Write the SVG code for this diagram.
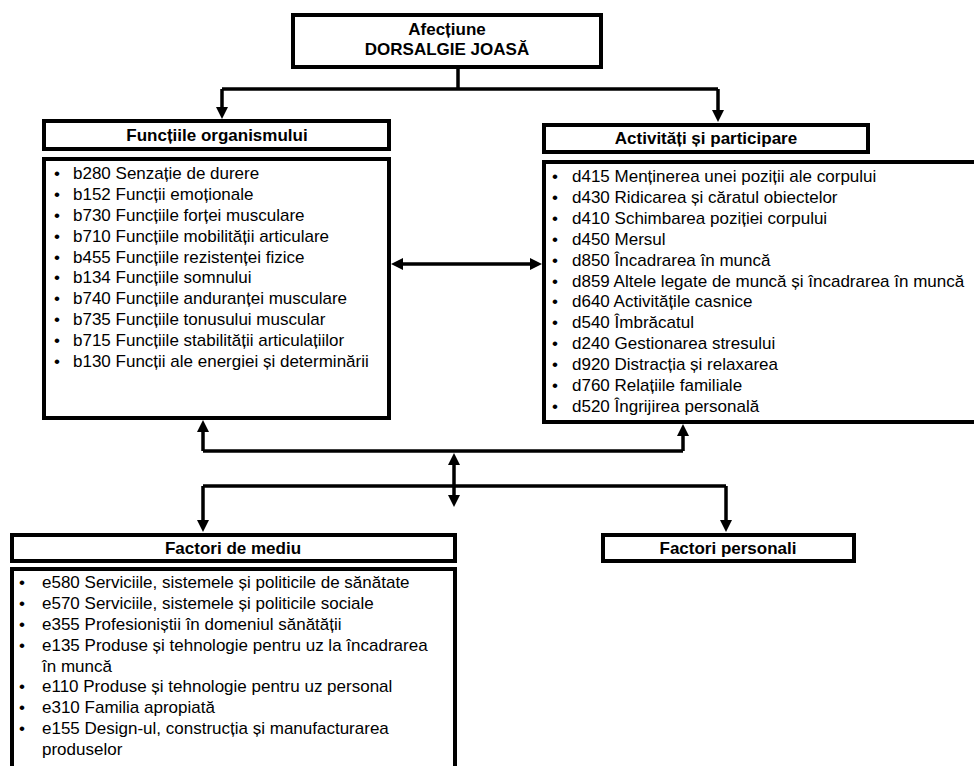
<svg xmlns="http://www.w3.org/2000/svg" width="974" height="766" viewBox="0 0 974 766">
<style>
.box{fill:#fff;stroke:#000;stroke-width:4}
.ln{fill:none;stroke:#000;stroke-width:3.5}
.t{font-family:"Liberation Sans",Arial,sans-serif;font-size:17px;fill:#000}
.h{font-family:"Liberation Sans",Arial,sans-serif;font-size:17px;font-weight:bold;fill:#000;text-anchor:middle}
</style>
<defs>
<marker id="ah" viewBox="0 0 12 12" markerWidth="12" markerHeight="12" refX="0" refY="6" orient="auto-start-reverse" markerUnits="userSpaceOnUse">
<path d="M0,0 L12,6 L0,12 z" fill="#000"/>
</marker>
</defs>
<rect width="974" height="766" fill="#fff"/>
<g id="connectors">
<path class="ln" d="M458,69 V89"/>
<path class="ln" d="M222,89 H718"/>
<path class="ln" d="M222,89 V107" marker-end="url(#ah)"/>
<path class="ln" d="M718,89 V110" marker-end="url(#ah)"/>
<path class="ln" d="M403,264 H530" marker-start="url(#ah)" marker-end="url(#ah)"/>
<path class="ln" d="M203,451 H683"/>
<path class="ln" d="M203,451 V432" marker-end="url(#ah)"/>
<path class="ln" d="M683,451 V436" marker-end="url(#ah)"/>
<path class="ln" d="M454,465 V495" marker-start="url(#ah)" marker-end="url(#ah)"/>
<path class="ln" d="M203,486 H726"/>
<path class="ln" d="M203,486 V520" marker-end="url(#ah)"/>
<path class="ln" d="M726,486 V520" marker-end="url(#ah)"/>
</g>
<g id="afectiune">
<rect class="box" x="293" y="15" width="308" height="52"/>
<text class="h" x="447" y="35">Afecțiune</text>
<text class="h" x="447" y="55">DORSALGIE JOASĂ</text>
</g>
<g id="functii-header">
<rect class="box" x="44" y="121" width="345" height="28"/>
<text class="h" x="217" y="141">Funcțiile organismului</text>
</g>
<g id="functii-list">
<rect class="box" x="44" y="159" width="345" height="259"/>
<text class="t" y="179"><tspan x="54">•</tspan><tspan x="73">b280 Senzație de durere</tspan></text>
<text class="t" y="200"><tspan x="54">•</tspan><tspan x="73">b152 Funcții emoționale</tspan></text>
<text class="t" y="221"><tspan x="54">•</tspan><tspan x="73">b730 Funcțiile forței musculare</tspan></text>
<text class="t" y="242"><tspan x="54">•</tspan><tspan x="73">b710 Funcțiile mobilității articulare</tspan></text>
<text class="t" y="263"><tspan x="54">•</tspan><tspan x="73">b455 Funcțiile rezistenței fizice</tspan></text>
<text class="t" y="283"><tspan x="54">•</tspan><tspan x="73">b134 Funcțiile somnului</tspan></text>
<text class="t" y="304"><tspan x="54">•</tspan><tspan x="73">b740 Funcțiile anduranței musculare</tspan></text>
<text class="t" y="325"><tspan x="54">•</tspan><tspan x="73">b735 Funcțiile tonusului muscular</tspan></text>
<text class="t" y="346"><tspan x="54">•</tspan><tspan x="73">b715 Funcțiile stabilității articulațiilor</tspan></text>
<text class="t" y="367"><tspan x="54">•</tspan><tspan x="73">b130 Funcții ale energiei și determinării</tspan></text>
</g>
<g id="activitati-header">
<rect class="box" x="544" y="125" width="324" height="27"/>
<text class="h" x="706" y="144">Activități și participare</text>
</g>
<g id="activitati-list">
<rect class="box" x="544" y="162" width="440" height="260"/>
<text class="t" y="182"><tspan x="552">•</tspan><tspan x="572">d415 Menținerea unei poziții ale corpului</tspan></text>
<text class="t" y="203"><tspan x="552">•</tspan><tspan x="572">d430 Ridicarea și căratul obiectelor</tspan></text>
<text class="t" y="224"><tspan x="552">•</tspan><tspan x="572">d410 Schimbarea poziției corpului</tspan></text>
<text class="t" y="245"><tspan x="552">•</tspan><tspan x="572">d450 Mersul</tspan></text>
<text class="t" y="266"><tspan x="552">•</tspan><tspan x="572">d850 Încadrarea în muncă</tspan></text>
<text class="t" y="287"><tspan x="552">•</tspan><tspan x="572">d859 Altele legate de muncă și încadrarea în muncă</tspan></text>
<text class="t" y="307"><tspan x="552">•</tspan><tspan x="572">d640 Activitățile casnice</tspan></text>
<text class="t" y="328"><tspan x="552">•</tspan><tspan x="572">d540 Îmbrăcatul</tspan></text>
<text class="t" y="349"><tspan x="552">•</tspan><tspan x="572">d240 Gestionarea stresului</tspan></text>
<text class="t" y="370"><tspan x="552">•</tspan><tspan x="572">d920 Distracția și relaxarea</tspan></text>
<text class="t" y="391"><tspan x="552">•</tspan><tspan x="572">d760 Relațiile familiale</tspan></text>
<text class="t" y="412"><tspan x="552">•</tspan><tspan x="572">d520 Îngrijirea personală</tspan></text>
</g>
<g id="mediu-header">
<rect class="box" x="12" y="535" width="443" height="26"/>
<text class="h" x="233" y="554">Factori de mediu</text>
</g>
<g id="mediu-list">
<rect class="box" x="12" y="569" width="443" height="210"/>
<text class="t" y="588"><tspan x="19">•</tspan><tspan x="42">e580 Serviciile, sistemele și politicile de sănătate</tspan></text>
<text class="t" y="609"><tspan x="19">•</tspan><tspan x="42">e570 Serviciile, sistemele și politicile sociale</tspan></text>
<text class="t" y="630"><tspan x="19">•</tspan><tspan x="42">e355 Profesioniștii în domeniul sănătății</tspan></text>
<text class="t" y="651"><tspan x="19">•</tspan><tspan x="42">e135 Produse și tehnologie pentru uz la încadrarea</tspan></text>
<text class="t" x="42" y="672">în muncă</text>
<text class="t" y="692"><tspan x="19">•</tspan><tspan x="42">e110 Produse și tehnologie pentru uz personal</tspan></text>
<text class="t" y="713"><tspan x="19">•</tspan><tspan x="42">e310 Familia apropiată</tspan></text>
<text class="t" y="734"><tspan x="19">•</tspan><tspan x="42">e155 Design-ul, construcția și manufacturarea</tspan></text>
<text class="t" x="42" y="755">produselor</text>
</g>
<g id="personali-header">
<rect class="box" x="603" y="535" width="251" height="26"/>
<text class="h" x="728" y="554">Factori personali</text>
</g>
</svg>
